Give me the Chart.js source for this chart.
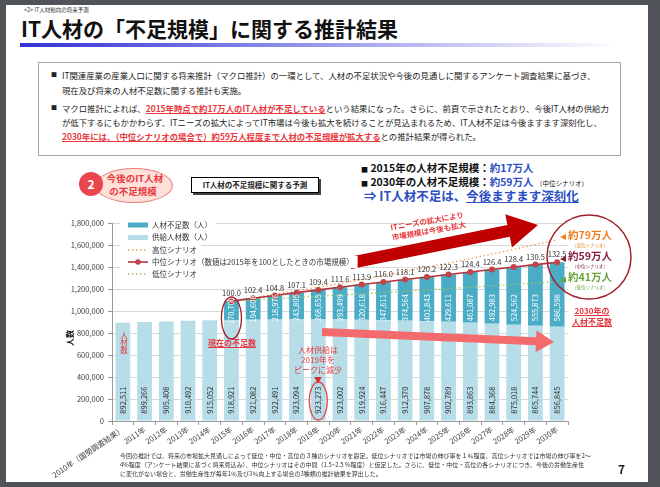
<!DOCTYPE html>
<html lang="ja">
<head>
<meta charset="utf-8">
<script src="https://cdn.jsdelivr.net/npm/chart.js@4.4.1/dist/chart.umd.min.js"></script>
<style>
  html, body { margin: 0; padding: 0; }
  body { width: 660px; height: 487px; background: #505357; position: relative; overflow: hidden;
         font-family: "Noto Sans CJK JP", "Noto Sans", sans-serif; color: #222; }
  .slide { position: absolute; left: 6px; top: 5px; width: 642px; height: 477px; background: #fff; }
  canvas { position: absolute; left: 0; top: 0; }
  .t { position: absolute; white-space: nowrap; line-height: 1; }
  .c { transform: translate(-50%, -50%); text-align: center; }
  .red { color: #e8383d; }
  .ul { text-decoration: underline; text-underline-offset: 1px; }
  .b { font-weight: 700; }
  .blue { color: #2d4fc4; }
  .box { position: absolute; left: 38px; top: 62px; width: 581px; height: 92px; border: 1px solid #a6a6a6; }
  .line { position: absolute; left: 62px; font-size: 8.4px; white-space: nowrap; line-height: 1; color: #222; }
  .sq { position: absolute; left: 51px; font-size: 6px; line-height: 1; }
</style>
</head>
<body>
<div class="slide"></div>

<div class="t" style="left:24px; top:8px; font-size:5.5px; color:#333;">&lt;2&gt; IT人材動向の将来予測</div>
<div class="t b" style="left:21px; top:18px; font-size:21px; color:#111;">IT人材の「不足規模」に関する推計結果</div>
<div style="position:absolute; left:20px; top:43px; width:600px; height:4px; background:linear-gradient(to right, #3232d6, #7a7ae6 35%, #fff);"></div>

<div class="box"></div>
<div class="sq" style="top:72px;">■</div>
<div class="line" style="top:71px;">IT関連産業の産業人口に関する将来推計（マクロ推計）の一環として、人材の不足状況や今後の見通しに関するアンケート調査結果に基づき、</div>
<div class="line" style="top:86px;">現在及び将来の人材不足数に関する推計も実施。</div>
<div class="sq" style="top:105px;">■</div>
<div class="line" style="top:104px;">マクロ推計によれば、<span class="red b ul">2015年時点で約17万人のIT人材が不足している</span>という結果になった。さらに、前頁で示されたとおり、今後IT人材の供給力</div>
<div class="line" style="top:118px;">が低下するにもかかわらず、ITニーズの拡大によってIT市場は今後も拡大を続けることが見込まれるため、IT人材不足は今後ますます深刻化し、</div>
<div class="line" style="top:132px;"><span class="red b ul">2030年には、（中位シナリオの場合で）約59万人程度まで人材の不足規模が拡大する</span>との推計結果が得られた。</div>

<div style="position:absolute; left:95px; top:168px; width:76px; height:33px; border-radius:50%; background:#fde1d9; border:1px solid #ea7d7d;"></div>
<div style="position:absolute; left:79px; top:172px; width:24px; height:24px; border-radius:50%; background:#ea4650; color:#fff; font-weight:700; font-size:12px; line-height:24px; text-align:center;">2</div>
<div class="t c b red" style="left:135px; top:179px; font-size:9.5px;">今後のIT人材</div>
<div class="t c b red" style="left:133px; top:192px; font-size:9.5px;">の不足規模</div>

<div style="position:absolute; left:191px; top:177px; width:126px; height:14px; border:1px solid #000; background:#fff; box-shadow:2px 2px 0 #444; font-size:7.5px; font-weight:700; line-height:14px; text-align:center;">IT人材の不足規模に関する予測</div>

<div class="t b" style="left:361px; top:163px; font-size:10.5px; color:#111;"><span style="font-size:7px;">■</span> 2015年の人材不足規模：<span class="blue">約17万人</span></div>
<div class="t b" style="left:361px; top:177px; font-size:10.5px; color:#111;"><span style="font-size:7px;">■</span> 2030年の人材不足規模：<span class="blue">約59万人</span> <span style="font-size:6.5px; font-weight:400;">（中位シナリオ）</span></div>
<div class="t b blue" style="left:364px; top:190px; font-size:12.5px;">⇒ IT人材不足は、<span class="ul">今後ますます深刻化</span></div>

<canvas id="chart" width="660" height="487"></canvas>

<div class="t b" style="left:70px; top:338px; font-size:8px; transform:translate(-50%,-50%) rotate(-90deg); color:#111;">人数</div>
<div class="t red" style="left:120px; top:331px; font-size:7.5px; writing-mode:vertical-rl; line-height:1;">人材数</div>
<div class="t c b red ul" style="left:232px; top:343px; font-size:8px;">現在の不足数</div>
<div class="t c red" style="left:318px; top:350px; font-size:8px;">人材供給は</div>
<div class="t c red" style="left:318px; top:360px; font-size:8px;">2019年を</div>
<div class="t c red" style="left:318px; top:370px; font-size:8px;">ピークに減少</div>
<div class="t c" style="left:318px; top:380px; font-size:8px; color:#d8262e;">▼</div>
<div class="t b red" style="left:428px; top:226px; font-size:7.5px; line-height:1.35; text-align:center; transform:translate(-50%,-50%) rotate(-10deg); color:#e8383d;">ITニーズの拡大により<br>市場規模は今後も拡大</div>

<div class="t c b" style="left:590px; top:235px; font-size:10.5px; color:#ee7d1e;">約79万人</div>
<div class="t c" style="left:590px; top:245px; font-size:4.5px; color:#ee7d1e;">（高位シナリオ）</div>
<div class="t c b" style="left:590px; top:256px; font-size:10.5px; color:#8a1c4a;">約59万人</div>
<div class="t c" style="left:590px; top:266px; font-size:4.5px; color:#8a1c4a;">（中位シナリオ）</div>
<div class="t c b" style="left:590px; top:277px; font-size:10.5px; color:#6aa33c;">約41万人</div>
<div class="t c" style="left:590px; top:287px; font-size:4.5px; color:#6aa33c;">（低位シナリオ）</div>
<div class="t c b red ul" style="left:592px; top:311px; font-size:8px;">2030年の</div>
<div class="t c b red ul" style="left:592px; top:322px; font-size:8px;">人材不足数</div>

<div class="t" style="left:120px; top:453px; font-size:6px; color:#333;">今回の推計では、将来の市場拡大見通しによって低位・中位・高位の３種のシナリオを設定。低位シナリオでは市場の伸び率を１％程度、高位シナリオでは市場の伸び率を2～</div>
<div class="t" style="left:120px; top:462px; font-size:6px; color:#333;">4%程度（アンケート結果に基づく将来見込み）、中位シナリオはその中間（1.5~2.5 %程度）と仮定した。さらに、低位・中位・高位の各シナリオにつき、今後の労働生産性</div>
<div class="t" style="left:120px; top:471px; font-size:6px; color:#333;">に変化がない場合と、労働生産性が毎年1％及び3％向上する場合の3種類の推計結果を算出した。</div>
<div class="t b" style="left:618px; top:463px; font-size:12px; color:#222;">7</div>

<script>
// categories
const years = ['2010年（国勢調査結果）', '2011年', '2012年', '2013年', '2014年', '2015年', '2016年', '2017年',
  '2018年', '2019年', '2020年', '2021年', '2022年', '2023年', '2024年', '2025年', '2026年', '2027年',
  '2028年', '2029年', '2030年'];

// 供給人材数（人）
const supply = [892511, 899266, 905408, 910492, 915052, 918921, 921082, 922491, 923094, 923273, 923002,
  919924, 916447, 912370, 907878, 902789, 893863, 884368, 875018, 865744, 856845];

// 人材不足数（人）
const shortage = [null, null, null, null, null, 170700, 194608, 218976, 243805, 268655, 293499,
  320618, 347611, 374564, 401843, 429611, 461087, 492983, 524562, 555873, 586598];

// 市場規模 (2015 = 100)
const marketIndex = [null, null, null, null, null, 100.0, 102.4, 104.8, 107.1, 109.4, 111.6,
  113.9, 116.0, 118.1, 120.2, 122.3, 124.4, 126.4, 128.4, 130.5, 132.5];

// 高位 / 低位シナリオ (需要 = 供給 + 不足)
const highDemand = [null, null, null, null, null, 1089621, 1120000, 1152000, 1184000, 1217000, 1251000,
  1286000, 1322000, 1359000, 1397000, 1436000, 1476000, 1518000, 1560000, 1604000, 1647000];
const lowDemand = [null, null, null, null, null, 1089621, 1100000, 1111000, 1122000, 1134000, 1145000,
  1156000, 1168000, 1180000, 1192000, 1204000, 1216000, 1228000, 1241000, 1253000, 1267000];

// y axis
const yMax = 1800000;
const yStep = 200000;

const midDemand = supply.map((v, i) => shortage[i] == null ? null : v + shortage[i]);

const FONT = '"Noto Sans CJK JP", "Noto Sans", sans-serif';
Chart.defaults.font.family = FONT;

const C_SHORT = '#4bacc6';
const C_SUPPLY = '#b7dde8';
const C_MID = '#b5333b';
const C_HIGH = '#f29a4a';
const C_LOW = '#9cc45a';

function arrow(ctx, x1, y1, x2, y2, body, headW, headL, color) {
  const a = Math.atan2(y2 - y1, x2 - x1);
  const len = Math.hypot(x2 - x1, y2 - y1);
  ctx.save();
  ctx.translate(x1, y1);
  ctx.rotate(a);
  ctx.beginPath();
  ctx.moveTo(0, -body / 2);
  ctx.lineTo(len - headL, -body / 2);
  ctx.lineTo(len - headL, -headW / 2);
  ctx.lineTo(len, 0);
  ctx.lineTo(len - headL, headW / 2);
  ctx.lineTo(len - headL, body / 2);
  ctx.lineTo(0, body / 2);
  ctx.closePath();
  ctx.fillStyle = color;
  ctx.fill();
  ctx.restore();
}

function vText(ctx, txt, x, y, color) {
  ctx.save();
  ctx.translate(x, y);
  ctx.rotate(-Math.PI / 2);
  ctx.fillStyle = color;
  ctx.textAlign = 'center';
  ctx.textBaseline = 'middle';
  ctx.fillText(txt, 0, 0);
  ctx.restore();
}

const extras = {
  id: 'extras',
  afterDatasetsDraw(chart) {
    const ctx = chart.ctx;
    const yS = chart.scales.y;
    const midMeta = chart.getDatasetMeta(0);
    const supMeta = chart.getDatasetMeta(3);
    const shoMeta = chart.getDatasetMeta(4);

    ctx.save();
    ctx.font = '7.5px ' + FONT;

    // supply labels
    supMeta.data.forEach((el, i) => {
      vText(ctx, supply[i].toLocaleString('en-US'), el.x, yS.getPixelForValue(190000), '#333');
    });
    // shortage labels
    shoMeta.data.forEach((el, i) => {
      if (shortage[i] == null) return;
      const cy = Math.max(yS.getPixelForValue(1030000), (el.y + el.base) / 2);
      vText(ctx, shortage[i].toLocaleString('en-US'), el.x, cy, '#fff');
    });
    // market index labels
    ctx.fillStyle = '#333';
    ctx.textAlign = 'center';
    ctx.textBaseline = 'bottom';
    midMeta.data.forEach((pt, i) => {
      if (marketIndex[i] == null) return;
      ctx.fillText(marketIndex[i].toFixed(1), pt.x, pt.y - 4);
    });

    // arrows
    arrow(ctx, 350, 263, 538, 225, 12, 34, 30, '#c00000');
    arrow(ctx, 322, 332, 554, 342, 8, 22, 18, '#f46b6e');

    // ellipses
    ctx.lineWidth = 1.3;
    ctx.strokeStyle = '#a11f2b';
    const b15 = shoMeta.data[5];
    ctx.beginPath();
    ctx.ellipse(b15.x, 318, 10, 21, 0, 0, Math.PI * 2);
    ctx.stroke();
    ctx.strokeStyle = '#e04a4f';
    const b19 = supMeta.data[9];
    ctx.beginPath();
    ctx.ellipse(b19.x, 401, 9, 19, 0, 0, Math.PI * 2);
    ctx.stroke();
    ctx.strokeStyle = '#a11f2b';
    ctx.lineWidth = 1.5;
    ctx.beginPath();
    ctx.arc(589, 257, 42, 0, Math.PI * 2);
    ctx.stroke();

    // small markers
    [[237, '#ee7d1e'], [259, '#8a1c2a'], [280, '#6aa33c']].forEach(([yy, col]) => {
      ctx.fillStyle = col;
      ctx.beginPath();
      ctx.moveTo(560, yy);
      ctx.lineTo(566, yy - 3);
      ctx.lineTo(566, yy + 3);
      ctx.closePath();
      ctx.fill();
    });

    // legend
    const rows = [
      { ds: chart.data.datasets[4], y: 225, kind: 'box' },
      { ds: chart.data.datasets[3], y: 237.5, kind: 'box' },
      { ds: chart.data.datasets[1], y: 250, kind: 'dot' },
      { ds: chart.data.datasets[0], y: 262, kind: 'line' },
      { ds: chart.data.datasets[2], y: 274, kind: 'dot' }
    ];
    ctx.font = '7.5px ' + FONT;
    ctx.textAlign = 'left';
    ctx.textBaseline = 'middle';
    rows.forEach(r => {
      const w = ctx.measureText(r.ds.label).width;
      ctx.fillStyle = '#fff';
      ctx.fillRect(120, r.y - 6, 152 + w + 4 - 120, 12);
      if (r.kind === 'box') {
        ctx.fillStyle = r.ds.backgroundColor;
        ctx.fillRect(128, r.y - 2.5, 20, 5);
      } else {
        ctx.strokeStyle = r.ds.borderColor;
        ctx.lineWidth = r.ds.borderWidth;
        ctx.setLineDash(r.kind === 'dot' ? r.ds.borderDash : []);
        ctx.beginPath();
        ctx.moveTo(128, r.y);
        ctx.lineTo(148, r.y);
        ctx.stroke();
        ctx.setLineDash([]);
        if (r.kind === 'line') {
          ctx.fillStyle = r.ds.pointBackgroundColor;
          ctx.beginPath();
          ctx.arc(138, r.y, 2.8, 0, Math.PI * 2);
          ctx.fill();
        }
      }
      ctx.fillStyle = '#333';
      ctx.fillText(r.ds.label, 152, r.y);
    });
    ctx.restore();
  }
};

new Chart(document.getElementById('chart'), {
  type: 'bar',
  data: {
    labels: years,
    datasets: [
      { type: 'line', label: '中位シナリオ（数値は2015年を100としたときの市場規模）', data: midDemand,
        borderColor: C_MID, borderWidth: 1.6, pointRadius: 3, pointBackgroundColor: '#c0454b',
        pointBorderWidth: 0, stack: 'mid', order: 0 },
      { type: 'line', label: '高位シナリオ', data: highDemand, borderColor: C_HIGH, borderWidth: 1.3,
        borderDash: [1.5, 2.5], pointRadius: 0, stack: 'high', order: 1 },
      { type: 'line', label: '低位シナリオ', data: lowDemand, borderColor: C_LOW, borderWidth: 1.3,
        borderDash: [1.5, 2.5], pointRadius: 0, stack: 'low', order: 1 },
      { label: '供給人材数（人）', data: supply, backgroundColor: C_SUPPLY, stack: 'bars', order: 3,
        barPercentage: 0.68, categoryPercentage: 1 },
      { label: '人材不足数（人）', data: shortage, backgroundColor: C_SHORT, stack: 'bars', order: 3,
        barPercentage: 0.68, categoryPercentage: 1 }
    ]
  },
  options: {
    responsive: false,
    animation: false,
    layout: { padding: { left: 56, right: 92, top: 223, bottom: 0 } },
    plugins: { legend: { display: false }, tooltip: { enabled: false } },
    scales: {
      x: {
        stacked: true,
        grid: { drawOnChartArea: false, tickLength: 4, tickColor: '#999' },
        border: { color: '#999' },
        ticks: { autoSkip: false, minRotation: 34, maxRotation: 34, padding: 0,
          font: { size: 7.5 }, color: '#404040' },
        afterFit: s => { s.height = 66; }
      },
      y: {
        stacked: true,
        min: 0,
        max: yMax,
        grid: { color: '#d9d9d9', tickLength: 4, tickColor: '#999' },
        border: { color: '#999' },
        ticks: { stepSize: yStep, padding: 4, font: { size: 7.5 }, color: '#404040',
          callback: v => v.toLocaleString('en-US') },
        afterFit: s => { s.width = 56; }
      }
    }
  },
  plugins: [extras]
});
</script>
</body>
</html>
